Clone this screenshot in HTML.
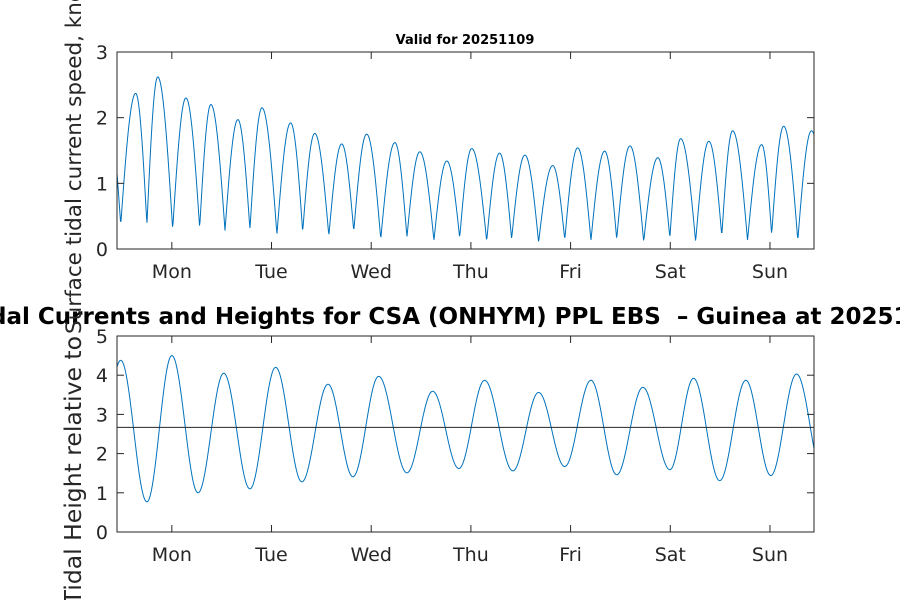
<!DOCTYPE html>
<html><head><meta charset="utf-8"><style>
html,body{margin:0;padding:0;background:#fff;width:900px;height:600px;overflow:hidden}
svg{display:block;font-family:"DejaVu Sans","Liberation Sans",sans-serif}
</style></head><body>
<svg id="fig" width="900" height="600" viewBox="0 0 900 600">
<rect width="900" height="600" fill="#fff"/>
<g id="top"></g>
<g id="bot"></g>
<text x="465" y="44" text-anchor="middle" font-size="13" font-weight="bold">Valid for 20251109</text>
<text x="462" y="324" text-anchor="middle" font-size="23" font-weight="bold" style="white-space:pre" xml:space="preserve">Tidal Currents and Heights for CSA (ONHYM) PPL EBS  – Guinea at 20251109</text>
<text transform="translate(81,334) rotate(-90)" text-anchor="start" font-size="21.5" fill="#262626">Surface tidal current speed, knots</text>
<text transform="translate(81,336) rotate(-90)" text-anchor="end" font-size="23.5" fill="#262626">Tidal Height relative to</text>
</svg>
<script>
// time in hours from Monday 00:00
const dayLabels=["Mon","Tue","Wed","Thu","Fri","Sat","Sun"];
const speedTicks=[0,1,2,3];
const heightTicks=[0,1,2,3,4,5];
const meanLevel=2.67;
const speedTimes=[-15.5,-12.3,-8.7,-6.0,-3.4,0.2,3.4,6.7,9.4,12.8,15.9,18.8,21.7,25.3,28.6,31.5,34.4,37.8,40.9,43.8,46.9,50.3,53.7,56.6,59.7,63.1,66.2,69.3,72.2,75.8,78.9,81.8,85.0,88.3,91.7,94.6,97.7,100.9,104.2,107.1,110.3,113.6,117.0,119.9,122.5,126.1,129.3,132.4,135.0,138.6,142.0,144.4,147.3,150.7,154.0,157.4];
const speedVals=[2.2,0.37,2.37,0.37,2.62,0.3,2.3,0.32,2.2,0.28,1.97,0.3,2.15,0.22,1.92,0.26,1.76,0.2,1.6,0.27,1.75,0.15,1.62,0.18,1.48,0.13,1.34,0.17,1.53,0.12,1.46,0.15,1.43,0.1,1.27,0.14,1.54,0.13,1.49,0.15,1.57,0.11,1.39,0.17,1.68,0.11,1.64,0.2,1.8,0.13,1.59,0.22,1.87,0.13,1.8,0.3];
const heightTimes=[-18.5,-12.3,-6.0,0,6.3,12.5,18.8,25.0,31.3,37.6,43.6,49.8,56.6,62.8,69.1,75.3,82.1,88.3,94.6,100.9,107.1,113.4,119.9,125.6,131.9,138.2,144.2,150.4,156.9];
const heightVals=[1.0,4.38,0.77,4.5,1.0,4.05,1.1,4.2,1.28,3.77,1.41,3.97,1.51,3.59,1.62,3.87,1.56,3.56,1.67,3.87,1.46,3.69,1.59,3.92,1.31,3.87,1.44,4.03,1.4];
const tMin=-13.2,tMax=154.6;
const NS="http://www.w3.org/2000/svg";
const L=117,R=814;
function xs(t){return L+(t-tMin)/(tMax-tMin)*(R-L);}
function mk(tag,attrs,parent){const e=document.createElementNS(NS,tag);for(const k in attrs)e.setAttribute(k,attrs[k]);parent.appendChild(e);return e;}
function interp(ts,vs,t,rect){
  for(let i=0;i<ts.length-1;i++){if(t>=ts[i]&&t<=ts[i+1]){
    const f=(t-ts[i])/(ts[i+1]-ts[i]);const a=vs[i],b=vs[i+1];
    if(rect){
      if(a<b) return a+(b-a)*Math.sin(f*Math.PI/2);
      return b+(a-b)*Math.cos(f*Math.PI/2);
    }
    return a+(b-a)*(1-Math.cos(f*Math.PI))/2;}}
  return vs[vs.length-1];
}
function axes(g,top,bot,ymax,ticks,ts,vs,rect,nm){
  const ys=v=>bot-(v/ymax)*(bot-top);
  const clip=mk('clipPath',{id:'c'+nm},g);mk('rect',{x:L,y:top,width:R-L,height:bot-top},clip);
  let d='';for(let px=L;px<=R;px+=0.5){const t=tMin+(px-L)/(R-L)*(tMax-tMin);const v=interp(ts,vs,t,rect);d+=(d?'L':'M')+px.toFixed(1)+','+ys(v).toFixed(2);}
  const p=mk('path',{d:d,fill:'none',stroke:'#0072BD','stroke-width':1,'clip-path':'url(#c'+nm+')'},g);
  
  
  mk('rect',{x:L,y:top,width:R-L,height:bot-top,fill:'none',stroke:'#262626','stroke-width':1},g);
  ticks.forEach(v=>{const y=ys(v);mk('line',{x1:L,x2:L+7,y1:y,y2:y,stroke:'#262626'},g);mk('line',{x1:R,x2:R-7,y1:y,y2:y,stroke:'#262626'},g);
    const tx=mk('text',{x:L-9,y:y+7,'text-anchor':'end','font-size':19,fill:'#262626'},g);tx.textContent=v;
    
    });
  dayLabels.forEach((lab,i)=>{const x=xs(i*24);mk('line',{x1:x,x2:x,y1:bot,y2:bot-7,stroke:'#262626'},g);mk('line',{x1:x,x2:x,y1:top,y2:top+7,stroke:'#262626'},g);
    const tx=mk('text',{x:x,y:bot+29,'text-anchor':'middle','font-size':19,fill:'#262626'},g);tx.textContent=lab;
    
    });
  return ys;
}
axes(document.getElementById('top'),52,249,3,speedTicks,speedTimes,speedVals,true,'speed');
const ysb=axes(document.getElementById('bot'),336,532,5,heightTicks,heightTimes,heightVals,false,'height');
const ml=mk('line',{x1:L,x2:R,y1:ysb(meanLevel),y2:ysb(meanLevel),stroke:'#262626','stroke-width':1},document.getElementById('bot'));


</script>
</body></html>
